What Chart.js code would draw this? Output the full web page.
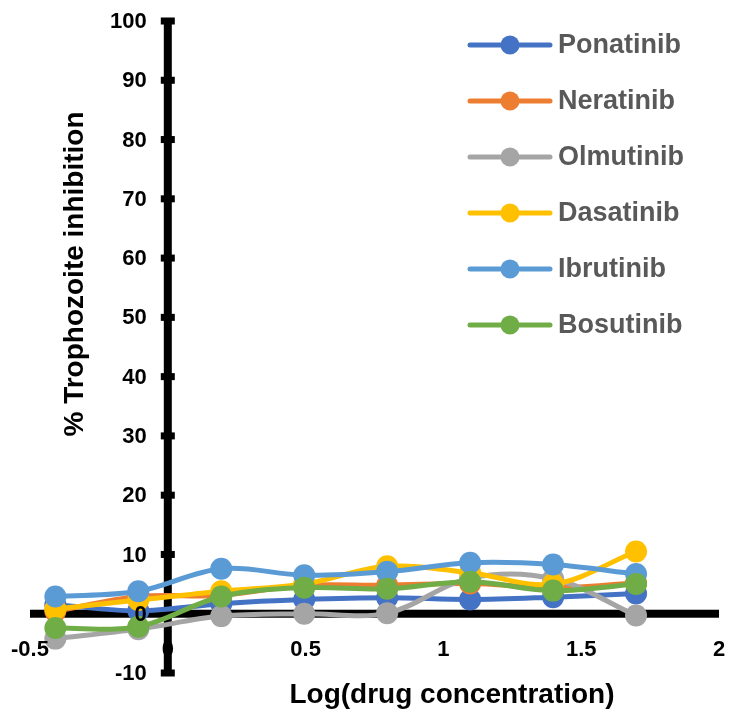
<!DOCTYPE html>
<html>
<head>
<meta charset="utf-8">
<script src="https://cdn.jsdelivr.net/npm/chart.js@4"></script>
<style>
  html, body { margin: 0; padding: 0; background: #fff; overflow: hidden; }
  canvas { display: block; }
</style>
</head>
<body>
<canvas id="line-chart" width="730" height="726"></canvas>
<script>
// log10 of the drug concentration (2-fold dilutions from 50)
const logConc = [-0.408, -0.107, 0.194, 0.495, 0.796, 1.097, 1.398, 1.699];

const seriesNames = ['Ponatinib', 'Neratinib', 'Olmutinib', 'Dasatinib', 'Ibrutinib', 'Bosutinib'];
const seriesColors = ['#4472C4', '#ED7D31', '#A5A5A5', '#FFC000', '#5B9BD5', '#70AD47'];

// % trophozoite inhibition
const ponatinib = [1.5, 0.5, 1.7, 2.4, 2.7, 2.4, 2.8, 3.4];
const neratinib = [0.4, 2.9, 3.1, 4.8, 4.8, 5.1, 4.4, 5.2];
const olmutinib = [-4.2, -2.6, -0.4, 0.0, 0.1, 6.0, 5.9, -0.3];
const dasatinib = [0.8, 2.3, 3.8, 5.0, 8.0, 6.9, 5.0, 10.5];
const ibrutinib = [2.9, 3.8, 7.6, 6.5, 7.1, 8.6, 8.3, 6.7];
const bosutinib = [-2.4, -2.2, 2.9, 4.4, 4.2, 5.4, 3.9, 5.0];

const allSeries = [ponatinib, neratinib, olmutinib, dasatinib, ibrutinib, bosutinib];

const xTicks = [-0.5, 0, 0.5, 1, 1.5, 2];
const yTicks = [-10, 0, 10, 20, 30, 40, 50, 60, 70, 80, 90, 100];

const xTitle = 'Log(drug concentration)';
const yTitle = '% Trophozoite inhibition';

const FONT = "'Liberation Sans', Arial, sans-serif";

const datasets = allSeries.map((vals, i) => ({
    label: seriesNames[i],
    data: vals.map((v, j) => ({ x: logConc[j], y: v })),
    borderColor: seriesColors[i],
    backgroundColor: seriesColors[i],
    borderWidth: 5,
    pointRadius: 11,
    pointBorderWidth: 0,
    pointBackgroundColor: seriesColors[i],
    tension: 0.35,
    order: seriesNames.length - i   // last series on top, like Excel
}));

// axes crossing at (0, 0), drawn under the data
const crossAxes = {
    id: 'crossAxes',
    beforeDatasetsDraw(chart) {
        const { ctx, chartArea: a } = chart;
        const xs = chart.scales.x, ys = chart.scales.y;
        const x0 = xs.getPixelForValue(0), y0 = ys.getPixelForValue(0);
        ctx.save();
        ctx.fillStyle = '#000';
        ctx.fillRect(a.left, y0 - 4, a.right - a.left, 8);
        ctx.fillRect(x0 - 4, a.top, 8, a.bottom - a.top);
        yTicks.forEach(v => {
            const py = ys.getPixelForValue(v);
            ctx.fillRect(x0 - 7, py - 3.5, 14, 7);
        });
        ctx.restore();
    },
    afterDatasetsDraw(chart) {
        const ctx = chart.ctx;
        const xs = chart.scales.x, ys = chart.scales.y;
        const x0 = xs.getPixelForValue(0), y0 = ys.getPixelForValue(0);
        ctx.save();
        ctx.fillStyle = '#000';
        ctx.font = 'bold 22px ' + FONT;
        ctx.textBaseline = 'middle';
        ctx.textAlign = 'right';
        yTicks.forEach(v => ctx.fillText(String(v), x0 - 21, ys.getPixelForValue(v) + 1));
        ctx.textAlign = 'center';
        xTicks.forEach(v => ctx.fillText(String(v), xs.getPixelForValue(v), y0 + 36));
        ctx.restore();
    }
};

// titles + Excel style legend
const extras = {
    id: 'extras',
    afterDraw(chart) {
        const ctx = chart.ctx;
        ctx.save();
        ctx.fillStyle = '#000';
        ctx.font = 'bold 28px ' + FONT;
        ctx.textAlign = 'center';
        ctx.textBaseline = 'middle';
        ctx.fillText(xTitle, 452, 695);
        ctx.translate(75, 274);
        ctx.rotate(-Math.PI / 2);
        ctx.fillText(yTitle, 0, 0);
        ctx.restore();

        ctx.save();
        ctx.font = 'bold 27px ' + FONT;
        ctx.textBaseline = 'middle';
        ctx.textAlign = 'left';
        seriesNames.forEach((name, i) => {
            const y = 45 + i * 56;
            ctx.strokeStyle = seriesColors[i];
            ctx.lineWidth = 5;
            ctx.lineCap = 'round';
            ctx.beginPath();
            ctx.moveTo(470, y);
            ctx.lineTo(550, y);
            ctx.stroke();
            ctx.fillStyle = seriesColors[i];
            ctx.beginPath();
            ctx.arc(510, y, 9.5, 0, Math.PI * 2);
            ctx.fill();
            ctx.fillStyle = '#595959';
            ctx.fillText(name, 558, y + 1);
        });
        ctx.restore();
    }
};

const canvas = document.getElementById('line-chart');
const ctx = canvas.getContext('2d');
const lineChart = new Chart(ctx, {
    type: 'line',
    data: { datasets: datasets },
    plugins: [crossAxes, extras],
    options: {
        responsive: false,
        animation: false,
        layout: { padding: { left: 30, right: 0, top: 21, bottom: 53 } },
        plugins: {
            legend: { display: false },
            tooltip: { enabled: false }
        },
        scales: {
            x: { type: 'linear', min: -0.5, max: 2, display: false },
            y: { type: 'linear', min: -10, max: 100, display: false }
        }
    }
});
</script>
</body>
</html>
